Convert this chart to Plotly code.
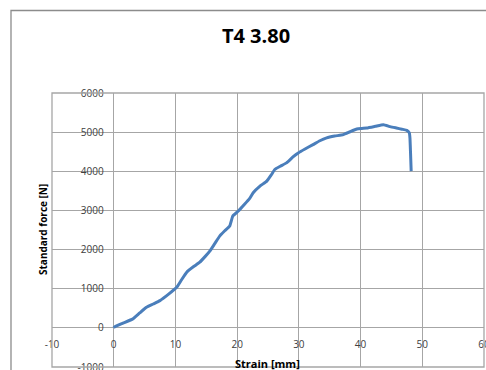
import plotly.graph_objects as go

strain = [0, 0.15, 1.5, 3.1, 4.2, 5.3, 6.4, 7.5, 8.9, 10.2, 11.0, 11.8, 12.9, 13.9, 14.8, 15.6, 16.4, 17.2,
          18.0, 18.8, 19.3, 20.2, 21.2, 22.0, 22.6, 23.7, 24.8, 25.5, 26.1, 27.0, 28.0, 29.0, 29.9,
          31.0, 32.3, 33.4, 34.5, 35.8, 37.2, 38.3, 39.4, 40.2, 41.0, 42.4, 43.7, 44.8, 45.8, 46.7,
          47.5, 47.9, 48.0, 48.1, 48.2]
force = [0, 25, 120, 229, 380, 526, 610, 695, 860, 1035, 1230, 1417, 1560, 1671, 1820, 1967, 2160, 2349,
         2480, 2603, 2858, 2985, 3155, 3300, 3453, 3621, 3748, 3900, 4046, 4130, 4215, 4360, 4469,
         4570, 4682, 4780, 4852, 4900, 4936, 5010, 5080, 5095, 5106, 5150, 5191, 5140, 5106, 5075,
         5046, 4980, 4852, 4450, 4003]

x_ticks = [-10, 0, 10, 20, 30, 40, 50, 60]
x_labels = ["-10", "0", "10", "20", "30", "40", "50", "60"]
y_ticks = [-1000, 0, 1000, 2000, 3000, 4000, 5000, 6000]
y_labels = ["-1000", "0", "1000", "2000", "3000", "4000", "5000", "6000"]

grid = "#a6a6a6"
font_family = "Open Sans, Liberation Sans, sans-serif"
tickfont = dict(family=font_family, size=10, color="#404040")

fig = go.Figure()
fig.add_trace(go.Scatter(x=strain, y=force, mode="lines",
                         line=dict(color="#4a7ebb", width=3, shape="spline", smoothing=0.4),
                         showlegend=False))

fig.update_layout(
    width=486, height=370,
    margin=dict(l=52, r=2, t=93, b=3, autoexpand=False),
    paper_bgcolor="white", plot_bgcolor="white",
    title=dict(text="<b>T4 3.80</b>", x=256 / 486, xref="container", xanchor="center",
               y=1 - 36 / 370, yref="container", yanchor="middle", automargin=False,
               font=dict(family=font_family, size=20, color="black")),
    xaxis=dict(range=[-10, 60], tickvals=x_ticks, ticktext=x_labels, showgrid=True,
               gridcolor=grid, gridwidth=1.3,
               zeroline=True, zerolinecolor=grid, zerolinewidth=1.3,
               anchor="free", position=1 / 7, showline=False, ticks="",
               ticklabelstandoff=9, ticklabeloverflow="allow",
               automargin=False, tickfont=tickfont, fixedrange=True),
    yaxis=dict(range=[-1000, 6000], tickvals=y_ticks, ticktext=y_labels, showgrid=True,
               gridcolor=grid, gridwidth=1.3,
               zeroline=True, zerolinecolor=grid, zerolinewidth=1.3,
               anchor="free", position=1 / 7, showline=False, ticks="",
               ticklabelstandoff=10, ticklabeloverflow="allow", automargin=False,
               tickfont=tickfont, fixedrange=True),
    shapes=[
        dict(type="rect", xref="x domain", yref="y domain", x0=0, x1=1, y0=0, y1=1,
             line=dict(color=grid, width=1.3)),
        dict(type="rect", xref="paper", yref="paper", x0=(11 - 52) / 432, x1=1.2,
             y0=-0.2, y1=(367 - 10.5) / 274, line=dict(color="#8c8c8c", width=1.3)),
    ],
    annotations=[
        dict(text="<b>Standard force [N]</b>", xref="paper", yref="paper",
             x=(43 - 52) / 432, y=0.5, textangle=-90, showarrow=False,
             xanchor="center", yanchor="middle",
             font=dict(family=font_family, size=10, color="black")),
        dict(text="<b>Strain [mm]</b>", xref="paper", yref="paper",
             x=(267 - 52) / 432, y=(367 - 363) / 274, showarrow=False,
             xanchor="center", yanchor="middle",
             font=dict(family=font_family, size=11, color="black")),
    ],
)

fig.write_html("out.html", config={"displayModeBar": False},
               post_script="document.body.style.margin='0';document.body.style.overflow='hidden';")
